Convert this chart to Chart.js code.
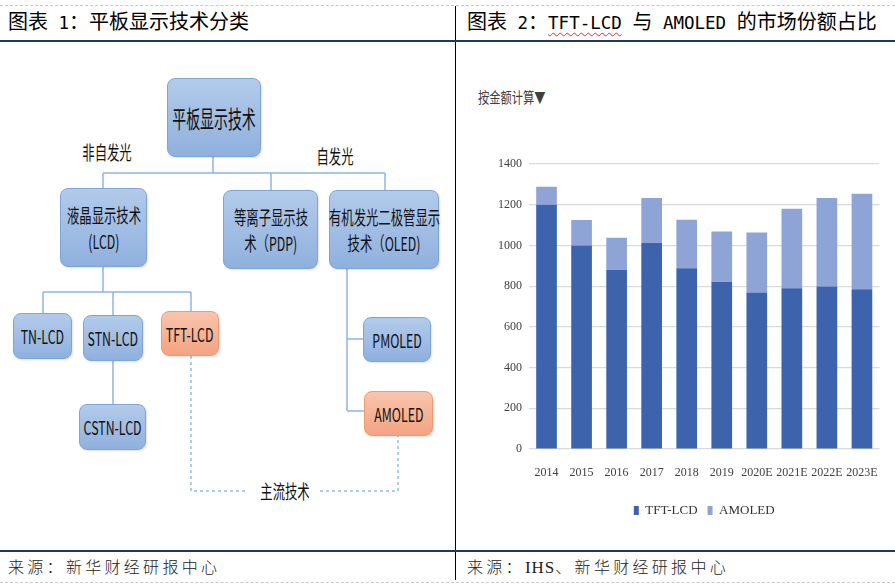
<!DOCTYPE html>
<html><head><meta charset="utf-8">
<script src="https://cdn.jsdelivr.net/npm/chart.js@4.4.0/dist/chart.umd.min.js"></script>
<style>
body{margin:0;width:895px;height:585px;position:relative;background:#fff;overflow:hidden;font-family:"Noto Sans CJK SC",sans-serif}
.abs{position:absolute}
.box{position:absolute;box-sizing:border-box;border:1px solid #7ea5d8;border-radius:8px;background:linear-gradient(#b3cbea,#8fb0de);display:flex;flex-direction:column;align-items:center;justify-content:center;color:#111;box-shadow:1px 1px 2px rgba(0,0,0,.12)}
.box.or{border-color:#ef9b72;background:linear-gradient(#f8c5ad,#f3a381)}
.t{display:block;white-space:nowrap;font-size:19px;line-height:26px;transform:scaleX(0.65)}
.lbl{position:absolute;white-space:nowrap;font-size:19px;line-height:20px;color:#111;transform:translate(-50%,-50%) scaleX(0.65)}
.title{position:absolute;top:8px;font-size:20px;line-height:26px;color:#000;white-space:nowrap}
.mono{font-family:"DejaVu Sans Mono",monospace;font-size:17.5px}
.src{position:absolute;top:555px;font-size:16px;line-height:22px;letter-spacing:3.3px;color:#222;font-weight:300;white-space:nowrap}
</style></head>
<body>
<!-- frame lines -->
<div class="abs" style="left:0;top:5px;width:895px;border-top:1px dashed #c8c8c8"></div>
<div class="abs" style="left:0;top:582px;width:895px;border-top:1px dashed #c8c8c8"></div>
<div class="abs" style="left:455px;top:6px;width:1px;height:574px;background:#000"></div>
<div class="abs" style="left:0;top:40px;width:895px;height:2px;background:#1f3864"></div>
<div class="abs" style="left:0;top:550px;width:895px;height:2px;background:#1f3864"></div>

<div class="title" style="left:8px">图表<span class="mono"> 1</span>：平板显示技术分类</div>
<div class="title" style="left:467px">图表<span class="mono"> 2</span>：<span class="mono" style="text-decoration:underline wavy #e03030;text-decoration-thickness:1px;text-underline-offset:3px">TFT-LCD</span><span class="mono"> </span>与<span class="mono"> AMOLED </span>的市场份额占比</div>

<div class="src" style="left:8px">来源：新华财经研报中心</div>
<div class="src" style="left:467px">来源：<span style="font-family:'Liberation Serif',serif;font-size:17px;letter-spacing:1px">IHS</span>、新华财经研报中心</div>

<!-- diagram -->
<svg class="abs" style="left:0;top:0" width="455" height="540">
  <g stroke="#8fb5e3" stroke-width="1.5" fill="none">
    <path d="M213 157 V173 M103 173 H385 M103 173 V188 M271 173 V190 M385 173 V190"/>
    <path d="M103 267 V292 M43 292 H191 M43 292 V313 M113 292 V315 M191 292 V311 M113 361 V404"/>
    <path d="M347 269 V411 M347 339 H363 M347 411 H364"/>
  </g>
  <g stroke="#5b9bd5" stroke-width="1" stroke-dasharray="3 3" fill="none">
    <path d="M191 356 V491 H248 M320 491 H398 V436"/>
  </g>
</svg>
<div id="diagram"></div>

<div class="abs" style="left:478px;top:86px;font-size:15px;line-height:22px;color:#404040;transform:scaleX(0.75);transform-origin:left center;white-space:nowrap">按金额计算▼</div>

<div class="abs" style="left:460px;top:140px;width:435px;height:387px"><canvas id="c"></canvas></div>

<script>
// ---- chart data ----
const years = ['2014','2015','2016','2017','2018','2019','2020E','2021E','2022E','2023E'];
const tftLcd = [1200, 1000, 880, 1013, 888, 822, 769, 790, 798, 785];
const amoled = [88, 125, 158, 220, 238, 247, 295, 390, 435, 469];
const seriesNames = ['TFT-LCD', 'AMOLED'];
const yMax = 1400, yStep = 200;

// ---- diagram (layout only) ----
const boxes = [
  {x:167,y:78,w:94,h:79,lines:['平板显示技术'],fs:24,sx:0.58},
  {x:60,y:188,w:87,h:79,lines:['液晶显示技术','(LCD)']},
  {x:223,y:190,w:95,h:79,lines:['等离子显示技','术（PDP)']},
  {x:329,y:190,w:110,h:79,lines:['有机发光二极管显示','技术（OLED)']},
  {x:13,y:313,w:59,h:46,lines:['TN-LCD']},
  {x:83,y:315,w:60,h:46,lines:['STN-LCD']},
  {x:161,y:311,w:58,h:45,lines:['TFT-LCD'],or:true},
  {x:79,y:404,w:67,h:46,lines:['CSTN-LCD']},
  {x:363,y:317,w:68,h:45,lines:['PMOLED']},
  {x:364,y:391,w:69,h:45,lines:['AMOLED'],or:true}
];
const dg = document.getElementById('diagram');
boxes.forEach(b=>{
  const d=document.createElement('div');
  d.className='box'+(b.or?' or':'');
  Object.assign(d.style,{left:b.x+'px',top:b.y+'px',width:b.w+'px',height:b.h+'px'});
  b.lines.forEach(t=>{
    const s=document.createElement('span');s.className='t';s.textContent=t;
    if(b.fs){s.style.fontSize=b.fs+'px';s.style.lineHeight='30px';s.style.transform='scaleX('+b.sx+')';}
    d.appendChild(s);
  });
  dg.appendChild(d);
});
[['非自发光',107,152],['自发光',335,156],['主流技术',285,491]].forEach(([t,x,y])=>{
  const s=document.createElement('div');s.className='lbl';s.textContent=t;
  s.style.left=x+'px';s.style.top=y+'px';dg.appendChild(s);
});

// ---- chart ----
new Chart(document.getElementById('c'), {
  type:'bar',
  data:{labels:years,datasets:[
    {label:seriesNames[0],data:tftLcd,backgroundColor:'#3d63ad',barPercentage:0.59,categoryPercentage:1},
    {label:seriesNames[1],data:amoled,backgroundColor:'#8fa4d6',barPercentage:0.59,categoryPercentage:1}
  ]},
  options:{
    responsive:true,maintainAspectRatio:false,animation:false,
    layout:{padding:{top:24,right:8,left:0,bottom:0}},
    plugins:{
      legend:{position:'bottom',fullSize:false,
        labels:{boxWidth:5,boxHeight:9,padding:10,color:'#333',font:{family:'Liberation Serif',size:13}}},
      tooltip:{enabled:false}
    },
    scales:{
      x:{stacked:true,grid:{display:false,drawTicks:false},border:{display:false},
        ticks:{padding:17,color:'#404040',maxRotation:0,autoSkip:false,font:{family:'Liberation Serif',size:12}},
        afterFit:s=>{s.height=45;}},
      y:{stacked:true,min:0,max:yMax,
        ticks:{stepSize:yStep,padding:7,color:'#404040',font:{family:'Liberation Serif',size:12},
          callback:v=>String(v)},
        grid:{color:'#d9d9d9',lineWidth:1.2,drawTicks:false},border:{display:false},
        afterFit:s=>{s.width=69;}}
    }
  }
});
</script>
</body></html>
